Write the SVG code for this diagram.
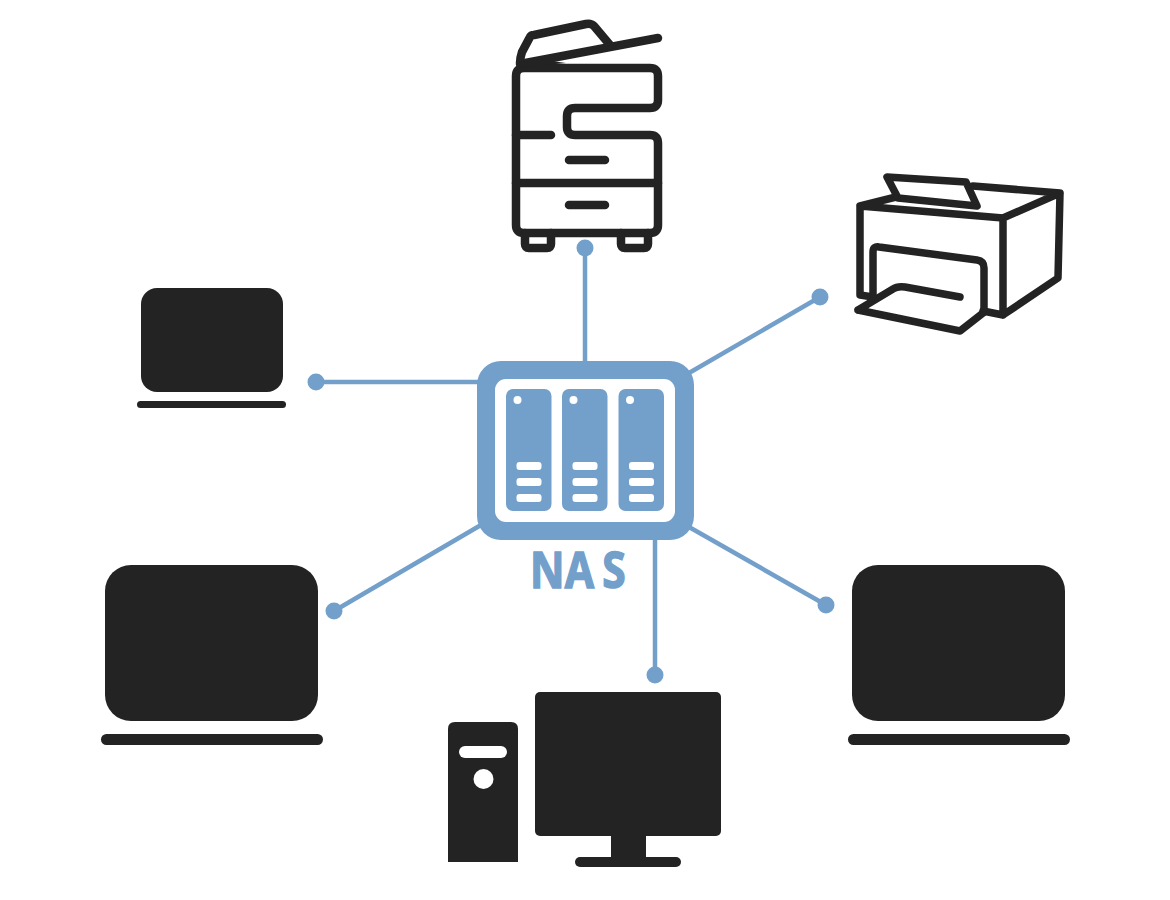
<svg xmlns="http://www.w3.org/2000/svg" width="1170" height="900" viewBox="0 0 1170 900">
<style>
.k{fill:#232323}
.b{fill:#739fcb}
.w{fill:#fff}
.s{fill:none;stroke:#232323;stroke-width:8.5;stroke-linecap:round;stroke-linejoin:round}
.p{stroke-width:7.5}
.c{stroke:#739fcb;stroke-width:4.5;fill:none}
</style>
<rect width="1170" height="900" fill="#fff"/>
<g id="connectors">
<path class="c" d="M585 248V362"/><circle class="b" cx="585" cy="248" r="8.500"/>
<path class="c" d="M316 382H478"/><circle class="b" cx="316" cy="382" r="8.500"/>
<path class="c" d="M820 297L689 373"/><circle class="b" cx="820" cy="297" r="8.500"/>
<path class="c" d="M334 611L481 525"/><circle class="b" cx="334" cy="611" r="8.500"/>
<path class="c" d="M826 605L689 527"/><circle class="b" cx="826" cy="605" r="8.500"/>
<path class="c" d="M655 675V538"/><circle class="b" cx="655" cy="675" r="8.500"/>
</g>
<g id="copier">
<path class="s" d="M524 68H650Q658 68 658 76V100Q658 108 650 108H575Q567 108 567 116V127Q567 135 575 135H650Q658 135 658 143V225Q658 233 650 233H524Q516 233 516 225V76Q516 68 524 68Z"/>
<path class="s" d="M516 135H551M516 183H658M569 160H605M569 205H605"/>
<path class="s" d="M525 233V244Q525 248 529 248H547Q551 248 551 244V233M621 233V244Q621 248 625 248H644Q648 248 648 244V233"/>
<path class="s" d="M520 64L658 38M520 63Q520 58 522 52L530 37Q531 35 534 35L586 24Q591 23 594 26L610 45"/>
<path class="k" d="M516 68L566 63L530 58Z"/>
</g>
<g id="printer">
<path class="s p" d="M860 206L1003 218L1060 193L973 186M860 206L896 197M860 206V295L873 297M1003 218V315L983 311M1060 193L1058 278L1003 315"/>
<path class="s p" d="M887 177L966 182L977 206L898 198Z"/>
<path class="s p" d="M873 295V252Q873 246 879 247L977 260Q984 261 984 268V312"/>
<path class="s p" d="M858 310L893 289Q897 286 905 287L960 297M858 310L960 331L983 313"/>
</g>
<g id="nas">
<rect class="b" x="477" y="361" width="217" height="179" rx="24"/>
<rect class="w" x="495" y="379" width="180" height="143" rx="11"/>
<g id="bay1"><rect class="b" x="506" y="389" width="45.500" height="122" rx="7"/><circle class="w" cx="517.500" cy="400" r="4"/><rect class="w" x="516.500" y="462" width="25" height="8" rx="3"/><rect class="w" x="516.500" y="478" width="25" height="8" rx="3"/><rect class="w" x="516.500" y="494" width="25" height="8" rx="3"/></g>
<g id="bay2"><rect class="b" x="562" y="389" width="45.500" height="122" rx="7"/><circle class="w" cx="573.500" cy="400" r="4"/><rect class="w" x="572.500" y="462" width="25" height="8" rx="3"/><rect class="w" x="572.500" y="478" width="25" height="8" rx="3"/><rect class="w" x="572.500" y="494" width="25" height="8" rx="3"/></g>
<g id="bay3"><rect class="b" x="618.500" y="389" width="45.500" height="122" rx="7"/><circle class="w" cx="630" cy="400" r="4"/><rect class="w" x="629" y="462" width="25" height="8" rx="3"/><rect class="w" x="629" y="478" width="25" height="8" rx="3"/><rect class="w" x="629" y="494" width="25" height="8" rx="3"/></g>
<text class="b" transform="translate(530 588) scale(.85 1)" x="0 41 85" y="0" font-family="'Open Sans','Noto Sans',sans-serif" font-weight="700" font-size="50" stroke="#739fcb" stroke-width="1.500">NAS</text>
</g>
<g id="laptop-small">
<rect class="k" x="141" y="288" width="142" height="104" rx="16"/>
<rect class="k" x="137" y="401" width="149" height="7" rx="3.500"/>
</g>
<g id="laptop-left">
<rect class="k" x="105" y="565" width="213" height="156" rx="26"/>
<rect class="k" x="101" y="734" width="222" height="11" rx="5.500"/>
</g>
<g id="laptop-right">
<rect class="k" x="852" y="565" width="213" height="156" rx="26"/>
<rect class="k" x="848" y="734" width="222" height="11" rx="5.500"/>
</g>
<g id="desktop">
<path class="k" d="M448 862V729Q448 722 455 722H511Q518 722 518 729V862Z"/>
<rect class="w" x="459" y="746" width="48" height="12" rx="6"/>
<circle class="w" cx="483.500" cy="779" r="10"/>
<rect class="k" x="535" y="692" width="186" height="144" rx="5"/>
<rect class="k" x="611" y="835" width="35" height="24"/>
<rect class="k" x="575" y="857" width="106" height="10" rx="5"/>
</g>
</svg>
